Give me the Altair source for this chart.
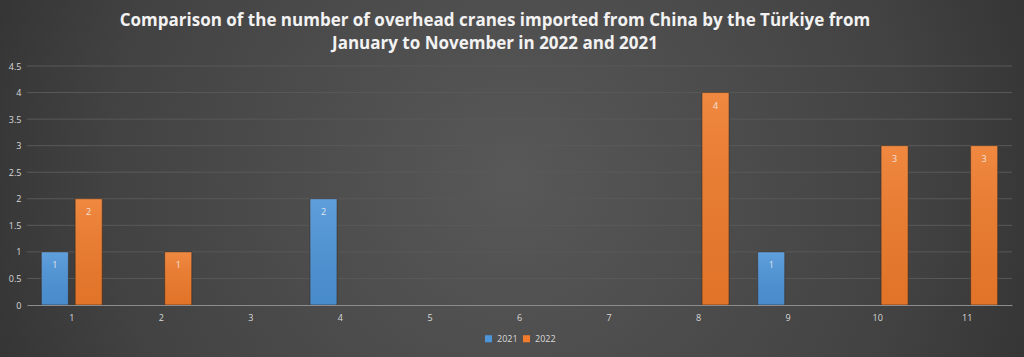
import altair as alt
import pandas as pd

months = ["1", "2", "3", "4", "5", "6", "7", "8", "9", "10", "11"]
v2021 = [1, 0, 0, 2, 0, 0, 0, 0, 1, 0, 0]
v2022 = [2, 1, 0, 0, 0, 0, 0, 4, 0, 3, 3]
series = ["2021", "2022"]
colors = ["#4d94d8", "#ef7b2b"]
y_ticks = [0, 0.5, 1, 1.5, 2, 2.5, 3, 3.5, 4, 4.5]
title_lines = [
    "Comparison of the number of overhead cranes imported from China by the Türkiye from",
    "January to November in 2022 and 2021",
]

rows = []
for m, a, b in zip(months, v2021, v2022):
    rows.append({"month": m, "year": "2021", "value": a})
    rows.append({"month": m, "year": "2022", "value": b})
df = pd.DataFrame(rows)
grid_df = pd.DataFrame({"value": y_ticks[1:]})

W, H = 985, 239
PL, PT, PR, PB = 27, 66, 12, 52

bg = alt.Chart(alt.Data(values=[{"a": 1}])).mark_rect(
    fill={
        "gradient": "radial",
        "x1": 0.5, "y1": 0.5, "r1": 0,
        "x2": 0.5, "y2": 0.5, "r2": 0.72,
        "stops": [
            {"offset": 0, "color": "#585858"},
            {"offset": 0.55, "color": "#424242"},
            {"offset": 1, "color": "#232323"},
        ],
    }
).encode(
    x=alt.value(-PL), x2=alt.value(W + PR),
    y=alt.value(-PT), y2=alt.value(H + PB),
)

y_axis = alt.Axis(title=None, values=y_ticks, labelColor="#d9d9d9", labelFontSize=9,
                  labelFont="Open Sans", ticks=False, domain=False, grid=False,
                  labelPadding=6, zindex=1, labelOverlap=False,
                  labelExpr="'' + datum.value")
yenc = alt.Y("value:Q", scale=alt.Scale(domain=[0, 4.5], nice=False), axis=y_axis)

grid = alt.Chart(grid_df).mark_rule(color="#595959", strokeWidth=1).encode(
    y=yenc,
    x=alt.value(0), x2=alt.value(W),
)

xenc = alt.X(
    "month:N", sort=months,
    scale=alt.Scale(domain=months, paddingInner=0.32, paddingOuter=0.16),
    axis=alt.Axis(title=None, labelAngle=0, labelColor="#d9d9d9", labelFontSize=9,
                  labelFont="Open Sans", ticks=False, domainColor="#8c8c8c",
                  domainWidth=1, labelPadding=8, zindex=1, grid=False),
)
xoff = alt.XOffset("year:N", scale=alt.Scale(domain=series, paddingInner=0.2, paddingOuter=0))

base = alt.Chart(df)

bars = base.mark_bar(stroke="#3a2a20", strokeOpacity=0.6, strokeWidth=1).encode(
    x=xenc, y=yenc, xOffset=xoff,
    color=alt.Color("year:N", scale=alt.Scale(domain=series, range=colors),
                    legend=alt.Legend(title=None, orient="none", direction="horizontal",
                                      legendX=457, legendY=268,
                                      symbolType="square", symbolSize=50,
                                      labelColor="#d9d9d9", labelFontSize=9,
                                      labelFont="Open Sans",
                                      symbolStrokeWidth=0, zindex=1, columnPadding=4)),
).transform_filter("datum.value > 0")

shade = base.mark_bar(
    fill={
        "gradient": "linear", "x1": 0, "y1": 0, "x2": 0, "y2": 1,
        "stops": [
            {"offset": 0, "color": "rgba(255,255,255,0.10)"},
            {"offset": 1, "color": "rgba(0,0,0,0.06)"},
        ],
    }
).encode(x=xenc, y=yenc, xOffset=xoff).transform_filter("datum.value > 0")

labels = base.mark_text(baseline="top", dy=9, color="#f3f3f3", fontSize=9,
                        font="Open Sans", opacity=0.85).encode(
    x=xenc, y=yenc, xOffset=xoff, text=alt.Text("value:Q"),
).transform_filter("datum.value > 0")

chart = alt.layer(bg, grid, bars, shade, labels).properties(
    width=W, height=H,
    title=alt.TitleParams(
        text=title_lines, color="#f2f2f2", fontSize=17, font="Open Sans",
        fontWeight="bold", anchor="middle", frame="bounds", dx=-17, offset=-53,
        lineHeight=23, zindex=1,
    ),
    padding={"left": PL, "top": PT, "right": PR, "bottom": PB},
    autosize=alt.AutoSizeParams(type="none"),
).configure_view(stroke=None).configure(background="#3a3a3a")

chart.save("out.html", embed_options={"renderer": "svg", "actions": False})
